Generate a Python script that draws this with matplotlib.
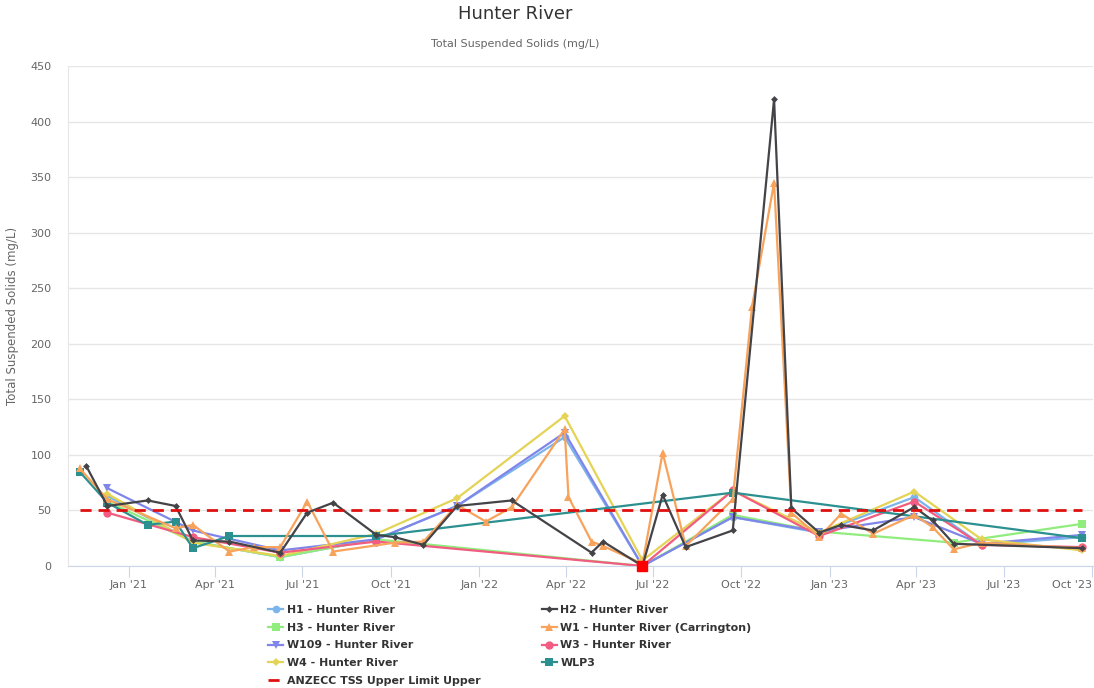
import numpy as np
import pandas as pd
import matplotlib
matplotlib.use('Agg')
import matplotlib.pyplot as plt

plt.rcParams['font.family'] = ['DejaVu Sans']

# data
h1_dates = ['2020-12-10', '2021-03-09', '2021-06-08', '2021-09-16', '2021-12-09', '2022-03-31',
            '2022-06-20', '2022-09-22', '2022-12-21', '2023-03-30', '2023-06-08', '2023-09-21']
h1_vals = [63, 22, 8, 24, 54, 116, 0, 44, 30, 62, 19, 26]

h2_dates = ['2020-11-18', '2020-12-10', '2021-01-21', '2021-02-19', '2021-03-09', '2021-04-16',
            '2021-06-08', '2021-07-06', '2021-08-02', '2021-09-16', '2021-10-05', '2021-11-04',
            '2021-12-09', '2022-02-04', '2022-04-28', '2022-05-10', '2022-06-20', '2022-07-11',
            '2022-08-04', '2022-09-22', '2022-11-04', '2022-11-22', '2022-12-21', '2023-01-13',
            '2023-02-15', '2023-03-30', '2023-04-18', '2023-05-10', '2023-09-21']
h2_vals = [90, 54, 59, 54, 23, 22, 12, 48, 57, 28, 26, 19, 54, 59, 12, 22, 0, 64, 17, 32,
           420, 52, 30, 37, 32, 53, 41, 20, 16]

h3_dates = ['2020-12-10', '2021-03-09', '2021-06-08', '2021-09-16', '2022-06-20', '2022-09-22',
            '2022-12-21', '2023-05-10', '2023-09-21']
h3_vals = [58, 22, 8, 24, 0, 46, 31, 21, 38]

w1_dates = ['2020-11-11', '2020-12-10', '2021-02-19', '2021-03-09', '2021-04-16', '2021-05-12',
            '2021-06-08', '2021-07-06', '2021-08-02', '2021-10-05', '2021-11-04', '2021-12-09',
            '2022-01-08', '2022-02-04', '2022-03-31', '2022-04-04', '2022-04-28', '2022-05-10',
            '2022-06-20', '2022-07-11', '2022-08-04', '2022-09-22', '2022-10-12', '2022-11-04',
            '2022-11-22', '2022-12-21', '2023-01-13', '2023-02-15', '2023-03-30', '2023-04-18',
            '2023-05-10', '2023-06-08', '2023-09-21']
w1_vals = [88, 60, 34, 37, 13, 17, 17, 58, 13, 21, 22, 55, 40, 53, 123, 62, 22, 18,
           2, 102, 18, 60, 233, 345, 48, 26, 47, 29, 46, 35, 15, 21, 16]

w109_dates = ['2020-12-10', '2021-03-09', '2021-06-08', '2021-09-16', '2021-12-09', '2022-03-31',
              '2022-06-20', '2022-09-22', '2022-12-21', '2023-03-30', '2023-06-08', '2023-09-21']
w109_vals = [70, 32, 14, 24, 54, 120, 0, 44, 31, 44, 20, 28]

w3_dates = ['2020-12-10', '2021-03-09', '2021-06-08', '2021-09-16', '2022-06-20', '2022-09-22',
            '2022-12-21', '2023-03-30', '2023-06-08', '2023-09-21']
w3_vals = [48, 26, 12, 22, 0, 68, 27, 58, 19, 17]

w4_dates = ['2020-12-10', '2021-03-09', '2021-06-08', '2021-09-16', '2021-12-09', '2022-03-31',
            '2022-06-20', '2022-09-22', '2022-12-21', '2023-03-30', '2023-06-08', '2023-09-21']
w4_vals = [65, 21, 9, 29, 61, 135, 5, 68, 30, 67, 24, 14]

wlp3_dates = ['2020-11-11', '2020-12-10', '2021-01-21', '2021-02-19', '2021-03-09', '2021-04-16',
              '2021-09-16', '2022-09-22', '2023-09-21']
wlp3_vals = [85, 57, 37, 40, 16, 27, 27, 66, 25]

limit_value = 50
limit_dates = ['2020-11-11', '2023-09-21']

highlight_date = '2022-06-20'
highlight_val = 0

tick_dates = ['2021-01-01', '2021-04-01', '2021-07-01', '2021-10-01', '2022-01-01', '2022-04-01',
              '2022-07-01', '2022-10-01', '2023-01-01', '2023-04-01', '2023-07-01', '2023-10-01']

series = [
    ('H1 - Hunter River', h1_dates, h1_vals, '#7cb5ec', 'o', 5.5),
    ('H3 - Hunter River', h3_dates, h3_vals, '#90ed7d', 's', 5.5),
    ('W109 - Hunter River', w109_dates, w109_vals, '#8085e9', 'v', 6),
    ('W4 - Hunter River', w4_dates, w4_vals, '#e4d354', 'D', 4.5),
    ('W3 - Hunter River', w3_dates, w3_vals, '#f15c80', 'o', 6),
    ('WLP3', wlp3_dates, wlp3_vals, '#2b908f', 's', 6),
    ('W1 - Hunter River (Carrington)', w1_dates, w1_vals, '#f7a35c', '^', 6),
    ('H2 - Hunter River', h2_dates, h2_vals, '#434348', 'D', 3.5),
]

fig = plt.figure(figsize=(10.94, 6.88), dpi=100)
ax = fig.add_axes([68 / 1094, 122 / 688, 1025 / 1094, 500 / 688])

handles = {}
for name, d, v, c, m, ms in series:
    ln, = ax.plot(pd.to_datetime(d), v, color=c, marker=m, markersize=ms, linewidth=1.6,
                  markeredgewidth=0, label=name)
    handles[name] = ln

lim, = ax.plot(pd.to_datetime(limit_dates), [limit_value, limit_value], color='#e01010',
               linestyle=(0, (4, 2.5)), linewidth=2, label='ANZECC TSS Upper Limit Upper')
ax.plot(pd.to_datetime([highlight_date]), [highlight_val], marker='s', color='#ff0000',
        markersize=6.5, linestyle='none', zorder=5, clip_on=False)

ax.set_ylim(0, 450)
ax.set_yticks(np.arange(0, 451, 50))
ax.set_xlim(pd.Timestamp('2020-10-30'), pd.Timestamp('2023-10-02'))
ticks = pd.to_datetime(tick_dates)
ax.set_xticks(ticks)
ax.set_xticklabels([t.strftime("%b '%y") for t in ticks])
ax.xaxis.get_major_ticks()[-1].label1.set_horizontalalignment('right')

ax.grid(axis='y', color='#e6e6e6', linewidth=1)
ax.set_axisbelow(True)
for s in ['top', 'right']:
    ax.spines[s].set_visible(False)
ax.spines['bottom'].set_color('#ccd6eb')
ax.spines['left'].set_color('#e6e6e6')
ax.tick_params(axis='x', colors='#ccd6eb', length=8, labelcolor='#666666', labelsize=8, pad=2)
ax.tick_params(axis='y', length=0, labelcolor='#666666', labelsize=8, pad=12)

ax.set_ylabel('Total Suspended Solids (mg/L)', color='#666666', fontsize=8.5, labelpad=8)

fig.text(515 / 1094, 1 - 14 / 688, 'Hunter River', ha='center', va='center', fontsize=13,
         color='#333333')
fig.text(515 / 1094, 1 - 44 / 688, 'Total Suspended Solids (mg/L)', ha='center', va='center',
         fontsize=8, color='#666666')

order = ['H1 - Hunter River', 'H3 - Hunter River', 'W109 - Hunter River', 'W4 - Hunter River']
order2 = ['H2 - Hunter River', 'W1 - Hunter River (Carrington)', 'W3 - Hunter River', 'WLP3']
leg_handles = [handles[n] for n in order] + [lim] + [handles[n] for n in order2]
leg_labels = order + ['ANZECC TSS Upper Limit Upper'] + order2
leg = fig.legend(leg_handles, leg_labels, ncol=2, loc='upper left',
                 bbox_to_anchor=(268 / 1094, 1 - 605 / 688), frameon=False,
                 prop={'weight': 'bold', 'size': 7.9}, handlelength=1.4, handletextpad=0.3,
                 columnspacing=5.6, labelspacing=0.7, borderaxespad=0, borderpad=0)
for t in leg.get_texts():
    t.set_color('#333333')

fig.savefig('out.png', dpi=100)
